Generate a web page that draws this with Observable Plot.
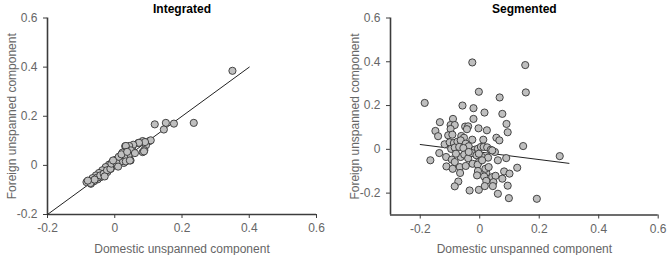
<!DOCTYPE html>
<html>
<head>
<meta charset="utf-8">
<script src="https://cdn.jsdelivr.net/npm/d3@7"></script>
<script src="https://cdn.jsdelivr.net/npm/@observablehq/plot@0.6"></script>
<style>
  html, body { margin: 0; padding: 0; background: #fff; }
  #wrap { position: relative; width: 667px; height: 255px; overflow: hidden; }
  #wrap > svg { position: absolute; top: 0; }
</style>
</head>
<body>
<div id="wrap"></div>
<script>
// Integrated markets: foreign vs domestic unspanned component
const intX = [0.35, 0.235, 0.176, 0.152, 0.119, 0.146, 0.103, 0.083, 0.093, 0.07, 0.083, 0.088, 0.053, 0.031, 0.043, 0.047, 0.027, 0.042,
  0.107, 0.09, 0.072, 0.055, 0.043, 0.033, 0.087, 0.048, 0.033, 0.023, 0.041, 0.028, 0.013, 0.003, 0.018, 0.033, -0.007, -0.017, -0.002,
  -0.027, -0.012, -0.037, -0.022, -0.047, -0.032, -0.056, -0.042, -0.066, -0.051, -0.076, -0.062, -0.071, -0.084, -0.072, -0.052, -0.043,
  -0.033, -0.023, -0.013, -0.01, 0.005, 0.012, -0.005, -0.06, -0.08, 0.06, 0.02, 0.037, 0.01, -0.03, 0.045];
const intY = [0.385, 0.173, 0.17, 0.173, 0.167, 0.146, 0.099, 0.099, 0.082, 0.091, 0.054, 0.062, 0.078, 0.078, 0.075, 0.02, 0.01, 0.034,
  0.102, 0.095, 0.092, 0.084, 0.079, 0.079, 0.057, 0.061, 0.054, 0.052, 0.041, 0.034, 0.03, 0.023, 0.016, 0.016, 0.014, 0.003, 0,
  -0.007, -0.014, -0.02, -0.027, -0.031, -0.038, -0.041, -0.048, -0.052, -0.057, -0.065, -0.065, -0.075, -0.068, -0.072, -0.05, -0.041,
  -0.034, -0.02, -0.014, 0.007, 0.01, 0.035, 0.02, -0.058, -0.062, 0.05, 0.045, 0.055, -0.005, -0.045, 0.02];
const intFitX = [-0.2, 0.4];
const intFitY = [-0.2, 0.4];

// Segmented markets
const segX = [-0.185, -0.025, 0.153, -0.003, 0.155, 0.067, -0.058, -0.021, 0.016, 0.076, -0.134, -0.09, -0.021, 0.09, -0.149, -0.14,
  -0.098, -0.084, -0.098, -0.049, -0.039, -0.043, -0.004, 0.024, 0.094, -0.106, -0.092, -0.062, -0.053, 0.056, 0.066, -0.025, 0.012,
  0.146, 0.269, -0.118, -0.101, -0.087, -0.075, -0.064, -0.047, -0.037, -0.017, -0.006, 0.004, 0.013, 0.025, 0.037, 0.051, -0.096,
  -0.084, -0.069, -0.055, -0.136, -0.166, -0.113, -0.094, -0.084, -0.064, -0.052, -0.039, -0.026, -0.011, -0.003, 0.008, 0.028, 0.061,
  0.089, -0.112, -0.091, -0.067, -0.047, -0.024, -0.007, 0.008, -0.066, -0.006, 0.022, 0.082, 0.1, 0.126, -0.009, 0.015, 0.042, 0.053,
  0.022, 0.046, 0.076, -0.072, -0.084, -0.034, -0.003, 0.017, 0.044, 0.094, 0.061, 0.098, 0.192, 0.019, -0.003, 0.042, 0.03, -0.08, -0.037];
const segY = [0.212, 0.397, 0.385, 0.263, 0.26, 0.237, 0.2, 0.188, 0.168, 0.162, 0.124, 0.139, 0.139, 0.116, 0.084, 0.06,
  0.111, 0.111, 0.093, 0.104, 0.105, 0.092, 0.096, 0.087, 0.078, 0.064, 0.067, 0.061, 0.053, 0.053, 0.041, 0.044, 0.044,
  0.015, -0.031, 0.023, 0.032, 0.029, 0.035, 0.041, 0.026, 0.014, -0.002, 0.003, 0.011, 0.011, 0.009, -0.002, -0.012, 0.002,
  0.008, 0.011, 0.006, -0.017, -0.05, -0.035, -0.047, -0.058, -0.035, -0.024, -0.041, -0.017, -0.027, -0.058, -0.035, -0.038, -0.05,
  -0.04, -0.078, -0.089, -0.081, -0.076, -0.066, -0.07, -0.05, -0.108, -0.099, -0.107, -0.101, -0.111, -0.084, -0.119, -0.124, -0.127, -0.121,
  -0.144, -0.15, -0.134, -0.147, -0.169, -0.188, -0.185, -0.168, -0.168, -0.166, -0.203, -0.223, -0.226, -0.089, -0.02, -0.005, -0.081, -0.02, -0.012];
const segFitX = [-0.2, 0.3];
const segFitY = [0.022, -0.064];

const tickValues = [-0.2, 0, 0.2, 0.4, 0.6];
const segYTicks = [-0.2, 0, 0.2, 0.4, 0.6];
const xLabel = "Domestic unspanned component";
const yLabel = "Foreign unspanned component";

const fmt = d => (d === 0 ? "0" : d.toFixed(1));
const axisColor = "#3c3c3c";
const textColor = "#666";

function panel({title, xs, ys, fitX, fitY, xDomain, yDomain, yTicks, width, margins}) {
  const pts = xs.map((x, i) => ({x, y: ys[i]}));
  const fit = fitX.map((x, i) => ({x, y: fitY[i]}));
  return Plot.plot({
    width, height: 255,
    ...margins,
    style: {fontFamily: "'Liberation Sans', Arial, sans-serif", fontSize: "11.5px", background: "white"},
    x: {domain: xDomain},
    y: {domain: yDomain},
    marks: [
      Plot.axisX({ticks: tickValues, tickFormat: fmt, tickSize: 4, tickPadding: 5, stroke: axisColor, fill: textColor,
        label: xLabel, labelAnchor: "center", labelOffset: 38, labelArrow: "none", fontSize: 12}),
      Plot.axisY({ticks: yTicks, tickFormat: fmt, tickSize: 4, tickPadding: 6, stroke: axisColor, fill: textColor,
        label: yLabel, labelAnchor: "center", labelOffset: 40, labelArrow: "none", fontSize: 12}),
      Plot.ruleX([xDomain[0]], {stroke: axisColor, strokeWidth: 1.6}),
      Plot.ruleY([yDomain[0]], {stroke: axisColor, strokeWidth: 1.6}),
      Plot.line(fit, {x: "x", y: "y", stroke: "#222", strokeWidth: 1}),
      Plot.dot(pts, {x: "x", y: "y", r: 3.6, fill: "#bfbfbf", stroke: "#333", strokeWidth: 0.9}),
      Plot.text([title], {frameAnchor: "top", lineAnchor: "middle", dy: -9, fontWeight: "bold", fontSize: 12, fill: "#000"})
    ]
  });
}

const left = panel({
  title: "Integrated", xs: intX, ys: intY, fitX: intFitX, fitY: intFitY,
  xDomain: [-0.2, 0.6], yDomain: [-0.2, 0.6], yTicks: tickValues, width: 333,
  margins: {marginLeft: 47, marginRight: 17, marginTop: 17.5, marginBottom: 41}
});
left.style.left = "0px";

const right = panel({
  title: "Segmented", xs: segX, ys: segY, fitX: segFitX, fitY: segFitY,
  xDomain: [-0.3, 0.6], yDomain: [-0.3, 0.6], yTicks: segYTicks, width: 334,
  margins: {marginLeft: 57, marginRight: 9.3, marginTop: 17.5, marginBottom: 40.5}
});
right.style.left = "333px";

const wrap = document.getElementById("wrap");
wrap.appendChild(left);
wrap.appendChild(right);
</script>
</body>
</html>
